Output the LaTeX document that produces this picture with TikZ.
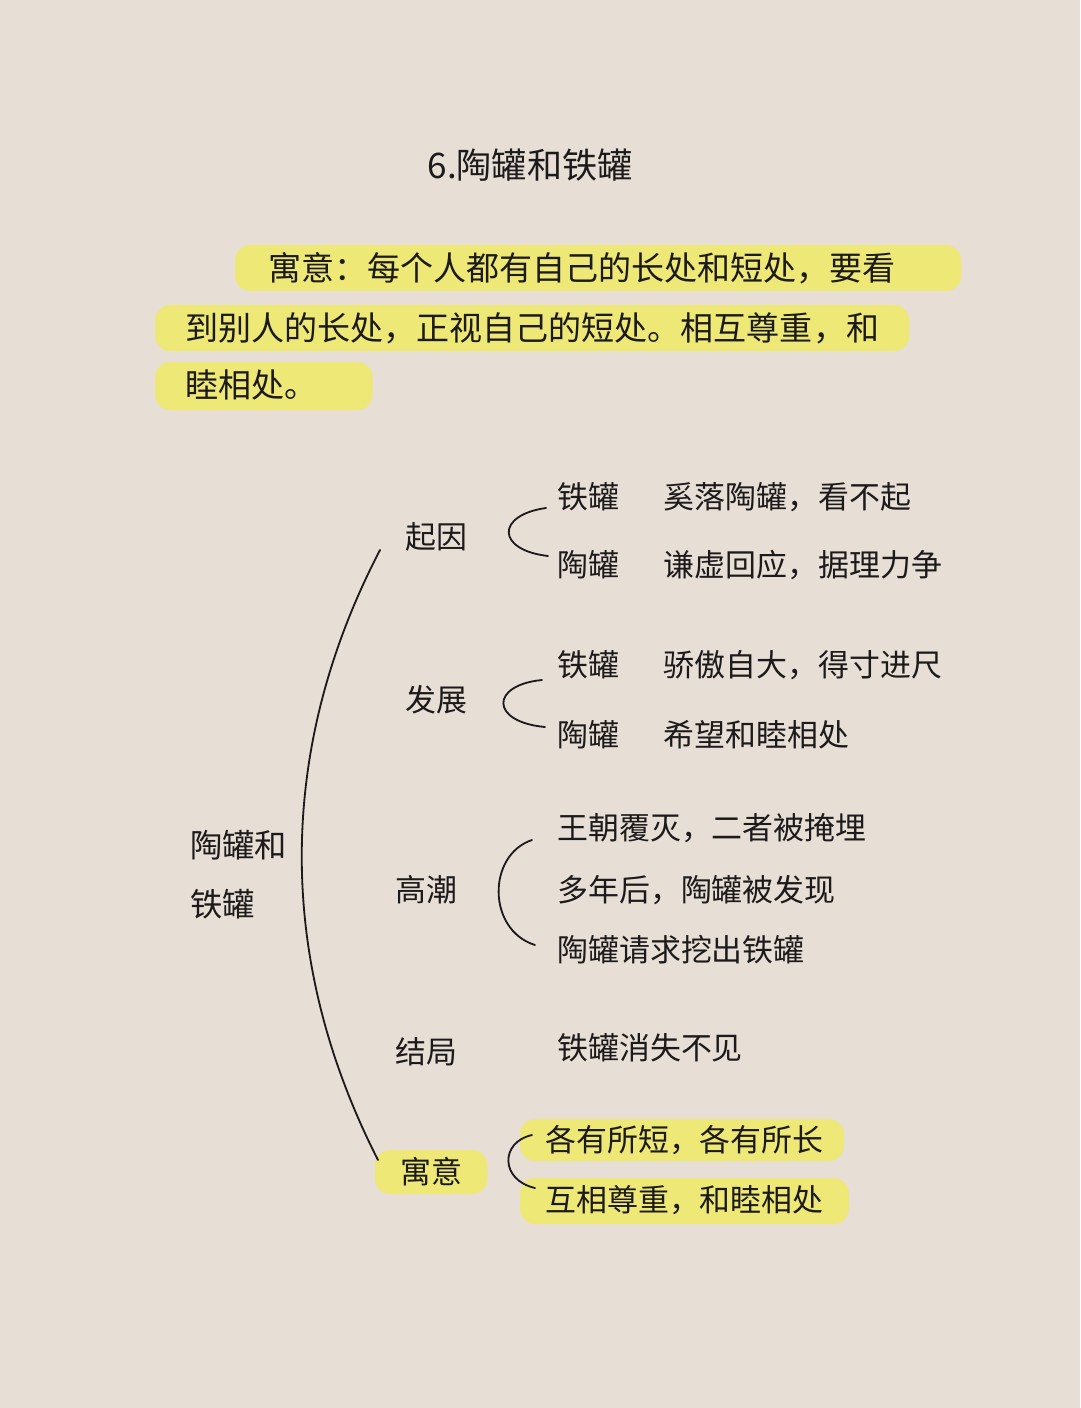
\documentclass[tikz,border=0pt]{standalone}
\usepackage{fontspec}
\setmainfont{Noto Sans CJK SC}
\usetikzlibrary{positioning,backgrounds}
\definecolor{paper}{RGB}{231,222,214}
\definecolor{marker}{RGB}{238,232,118}
\definecolor{ink}{RGB}{28,26,26}

\begin{document}
\begin{tikzpicture}[
  x=0.25mm, y=-0.25mm,
  every node/.style={text=ink, inner sep=0pt, font=\fontsize{22}{27}\selectfont},
  ttl/.style={font=\fontsize{25}{30}\selectfont},
  para/.style={anchor=west, font=\fontsize{23.5}{28}\selectfont},
  branch/.style={anchor=west, font=\fontsize{22}{26}\selectfont},
  leaf/.style={anchor=west},
  curve/.style={draw=ink, line width=1.3pt, line cap=round},
  hl/.style={fill=marker, rounded corners=11pt}
]
\useasboundingbox (0,0) rectangle (1080,1408);

% title and moral
\node[ttl] (title) at (530,165) {6.陶罐和铁罐};
\node[para] (p1) at (268,268) {寓意：每个人都有自己的长处和短处，要看};
\node[para] (p2) at (185,328) {到别人的长处，正视自己的短处。相互尊重，和};
\node[para] (p3) at (185,385) {睦相处。};

% map
\node[anchor=west, align=left, font=\fontsize{23}{42}\selectfont] (root) at (190,875) {陶罐和\\铁罐};

\node[branch] (qiyin) at (405,537) {起因};
\node[branch] (fazhan) at (405,700) {发展};
\node[branch] (gaochao) at (395,890) {高潮};
\node[branch] (jieju) at (395,1052) {结局};
\node[branch] (yuyi) at (400,1172) {寓意};

\node[leaf] (q1) at (557,497) {铁罐};
\node[leaf, right=11mm of q1] (q1d) {奚落陶罐，看不起};
\node[leaf] (q2) at (557,565) {陶罐};
\node[leaf, right=11mm of q2] (q2d) {谦虚回应，据理力争};

\node[leaf] (f1) at (557,665) {铁罐};
\node[leaf, right=11mm of f1] (f1d) {骄傲自大，得寸进尺};
\node[leaf] (f2) at (557,735) {陶罐};
\node[leaf, right=11mm of f2] (f2d) {希望和睦相处};

\node[leaf] (g1) at (557,828) {王朝覆灭，二者被掩埋};
\node[leaf] (g2) at (557,890) {多年后，陶罐被发现};
\node[leaf] (g3) at (557,950) {陶罐请求挖出铁罐};

\node[leaf] (j1) at (557,1048) {铁罐消失不见};

\node[leaf] (y1) at (545,1140) {各有所短，各有所长};
\node[leaf] (y2) at (545,1200) {互相尊重，和睦相处};

\begin{scope}[on background layer]
  \fill[paper] (0,0) rectangle (1080,1408);
  \fill[hl] ([shift={(-33,-23)}]p1.west) rectangle ([shift={(65,23)}]p1.east);
  \fill[hl] ([shift={(-30,-23)}]p2.west) rectangle ([shift={(30,23)}]p2.east);
  \fill[hl] ([shift={(-30,-23)}]p3.west) rectangle ([shift={(55,25)}]p3.east);
  \fill[hl] ([shift={(-25,-22)}]yuyi.west) rectangle ([shift={(25,22)}]yuyi.east);
  \fill[hl] ([shift={(-25,-21)}]y1.west) rectangle ([shift={(20,21)}]y1.east);
  \fill[hl] ([shift={(-25,-22)}]y2.west) rectangle ([shift={(25,24)}]y2.east);
\end{scope}

\draw[curve] ([shift={(-25,13)}]qiyin.west) .. controls (276,750) and (276,960) .. ([shift={(-22,-12)}]yuyi.west);
\draw[curve] ([shift={(-11,11)}]q1.west) .. controls (496,515) and (496,550) .. ([shift={(-9,-9)}]q2.west);
\draw[curve] ([shift={(-15,15)}]f1.west) .. controls (490,685) and (490,722) .. ([shift={(-12,-8)}]f2.west);
\draw[curve] ([shift={(-25,12)}]g1.west) .. controls (487,855) and (487,930) .. ([shift={(-22,-5)}]g3.west);
\draw[curve] ([shift={(-13,-5)}]y1.west) .. controls (500,1142) and (500,1180) .. ([shift={(-10,-12)}]y2.west);
\end{tikzpicture}
\end{document}
